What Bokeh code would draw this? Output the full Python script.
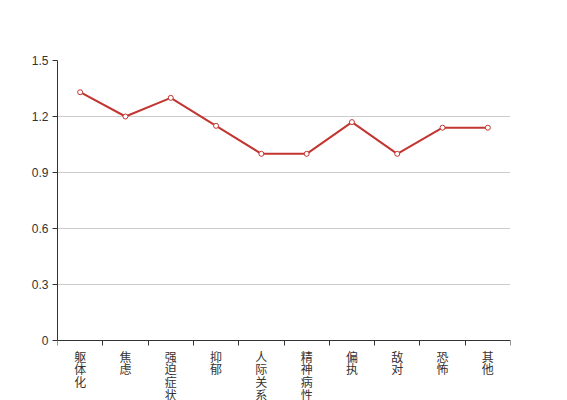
from bokeh.plotting import figure
from bokeh.models import Range1d, FixedTicker, ColumnDataSource
from bokeh.core.properties import value
from bokeh.embed import file_html
from bokeh.resources import INLINE

categories = ["躯体化", "焦虑", "强迫症状", "抑郁", "人际关系敏感", "精神病性", "偏执", "敌对", "恐怖", "其他"]
values = [1.33, 1.20, 1.30, 1.15, 1.00, 1.00, 1.17, 1.00, 1.14, 1.14]
y_ticks = [0, 0.3, 0.6, 0.9, 1.2, 1.5]
y_tick_labels = ["0", "0.3", "0.6", "0.9", "1.2", "1.5"]

n = len(categories)
xs = [i + 0.5 for i in range(n)]
src = ColumnDataSource(dict(x=xs, y=values))
lab_src = ColumnDataSource(dict(x=xs, y=[0] * n, text=["\n".join(list(c)) for c in categories]))

# layout (pixels)
W, H = 559, 400
TOP, LEFT, RIGHT = 60, 57, 49
AXIS_Y = 340  # pixel row of value 0
y_max = 1.5
px_per_unit = (AXIS_Y - TOP) / y_max
y_min = -(H - AXIS_Y) / px_per_unit  # frame extends below the axis to hold the labels

p = figure(width=W, height=H, output_backend="svg", toolbar_location=None,
           x_axis_location="above",
           x_range=Range1d(0, n), y_range=Range1d(y_min, y_max),
           min_border_left=LEFT, min_border_right=RIGHT, min_border_top=TOP, min_border_bottom=0)
p.outline_line_color = None
p.background_fill_color = "white"
p.border_fill_color = "white"

p.xgrid.grid_line_color = None
p.ygrid.grid_line_color = "#cccccc"
p.ygrid.ticker = FixedTicker(ticks=y_ticks)

# y axis
p.yaxis.bounds = (0, y_max)
p.yaxis.ticker = FixedTicker(ticks=y_ticks)
p.yaxis.major_label_overrides = {t: l for t, l in zip(y_ticks, y_tick_labels)}
p.yaxis.axis_line_color = "#333333"
p.yaxis.major_tick_line_color = "#333333"
p.yaxis.major_tick_out = 5
p.yaxis.major_tick_in = 0
p.yaxis.minor_tick_line_color = None
p.yaxis.major_label_text_font = "Liberation Sans"
p.yaxis.major_label_text_font_size = "12px"
p.yaxis.major_label_text_color = "#333333"
p.yaxis.major_label_standoff = 4

# x axis: placed at value 0, tick marks at band boundaries pointing down
p.xaxis.fixed_location = 0
p.xaxis.ticker = FixedTicker(ticks=[], minor_ticks=list(range(n + 1)))
p.xaxis.axis_line_color = "#333333"
p.xaxis.major_tick_line_color = None
p.xaxis.major_tick_out = 0
p.xaxis.major_tick_in = 0
p.xaxis.minor_tick_line_color = "#333333"
p.xaxis.minor_tick_out = 0
p.xaxis.minor_tick_in = 5
p.xaxis.major_label_text_font_size = "0px"

p.text(x="x", y="y", text="text", source=lab_src, y_offset=7,
       text_align="center", text_baseline="top",
       text_font=value("Noto Sans CJK SC"), text_font_size=value("12px"),
       text_color="#333333", text_line_height=0.75)

p.line("x", "y", source=src, line_color="#c23531", line_width=2)
p.scatter("x", "y", source=src, size=5, fill_color="white", line_color="#c23531", line_width=1)

open("out.html", "w").write(file_html(p, INLINE))
